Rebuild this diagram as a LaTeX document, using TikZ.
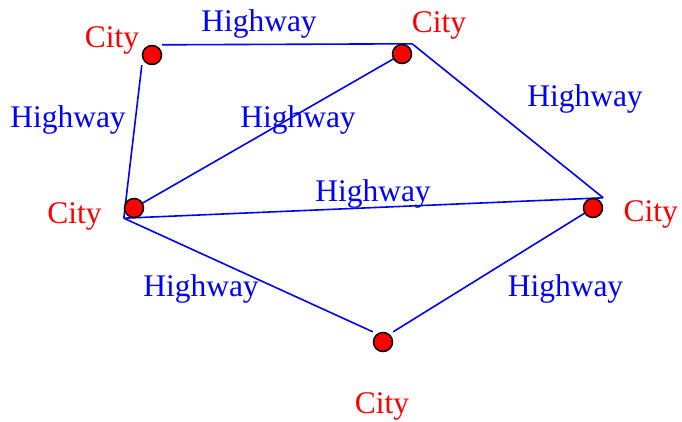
\documentclass[tikz,border=0pt]{standalone}
\usepackage{fontspec}
\setmainfont{Liberation Serif}
\definecolor{hwblue}{RGB}{0,0,255}
\definecolor{cityred}{RGB}{255,0,0}
\begin{document}
\begin{tikzpicture}[x=1pt,y=-1pt,
  cbox/.style={rectangle,minimum size=20pt,inner sep=0pt,draw=none},
  city/.style={circle,fill=cityred,draw=black,line width=1.5pt,minimum size=19pt,inner sep=0pt},
  road/.style={draw=hwblue,line width=1.6pt},
  hw/.style={text=hwblue,anchor=base,inner sep=0pt,font=\fontsize{31.5}{31.5}\selectfont},
  ct/.style={text=cityred,anchor=base,inner sep=0pt,font=\fontsize{31.5}{31.5}\selectfont}]
\useasboundingbox (0,0) rectangle (682,422);
% invisible boxes around the cities
\node[cbox] (Ab) at (152,55) {};
\node[cbox] (Bb) at (402,54) {};
\node[cbox] (Cb) at (134,208) {};
\node[cbox] (Db) at (593,208) {};
\node[cbox] (Eb) at (383,342) {};
% highways
\draw[road] (Ab.north east) -- (Bb.north east);
\draw[road] (Ab.south west) -- (Cb.south west);
\draw[road] (Bb.center) -- (Cb.center);
\draw[road] (Bb.north east) -- (Db.north east);
\draw[road] (Cb.south west) -- (Db.north east);
\draw[road] (Cb.south west) -- (Eb.north west);
\draw[road] (Eb.north east) -- (Db.center);
% cities
\node[city] (A) at (Ab) {};
\node[city] (B) at (Bb) {};
\node[city] (C) at (Cb) {};
\node[city] (D) at (Db) {};
\node[city] (E) at (Eb) {};
% labels
\node[ct] (lA) at (112,48) {City};
\node[ct] (lB) at (439,32.3) {City};
\node[ct] (lC) at (74.5,223.3) {City};
\node[ct] (lD) at (650.7,221.7) {City};
\node[ct] (lE) at (382,413.3) {City};
\node[hw] (hAB) at (259,32) {Highway};
\node[hw] (hAC) at (68,127.7) {Highway};
\node[hw] (hBC) at (298,127.3) {Highway};
\node[hw] (hBD) at (585,106.7) {Highway};
\node[hw] (hCD) at (373,201.7) {Highway};
\node[hw] (hCE) at (201,296.7) {Highway};
\node[hw] (hDE) at (565.5,296.7) {Highway};
\end{tikzpicture}
\end{document}
